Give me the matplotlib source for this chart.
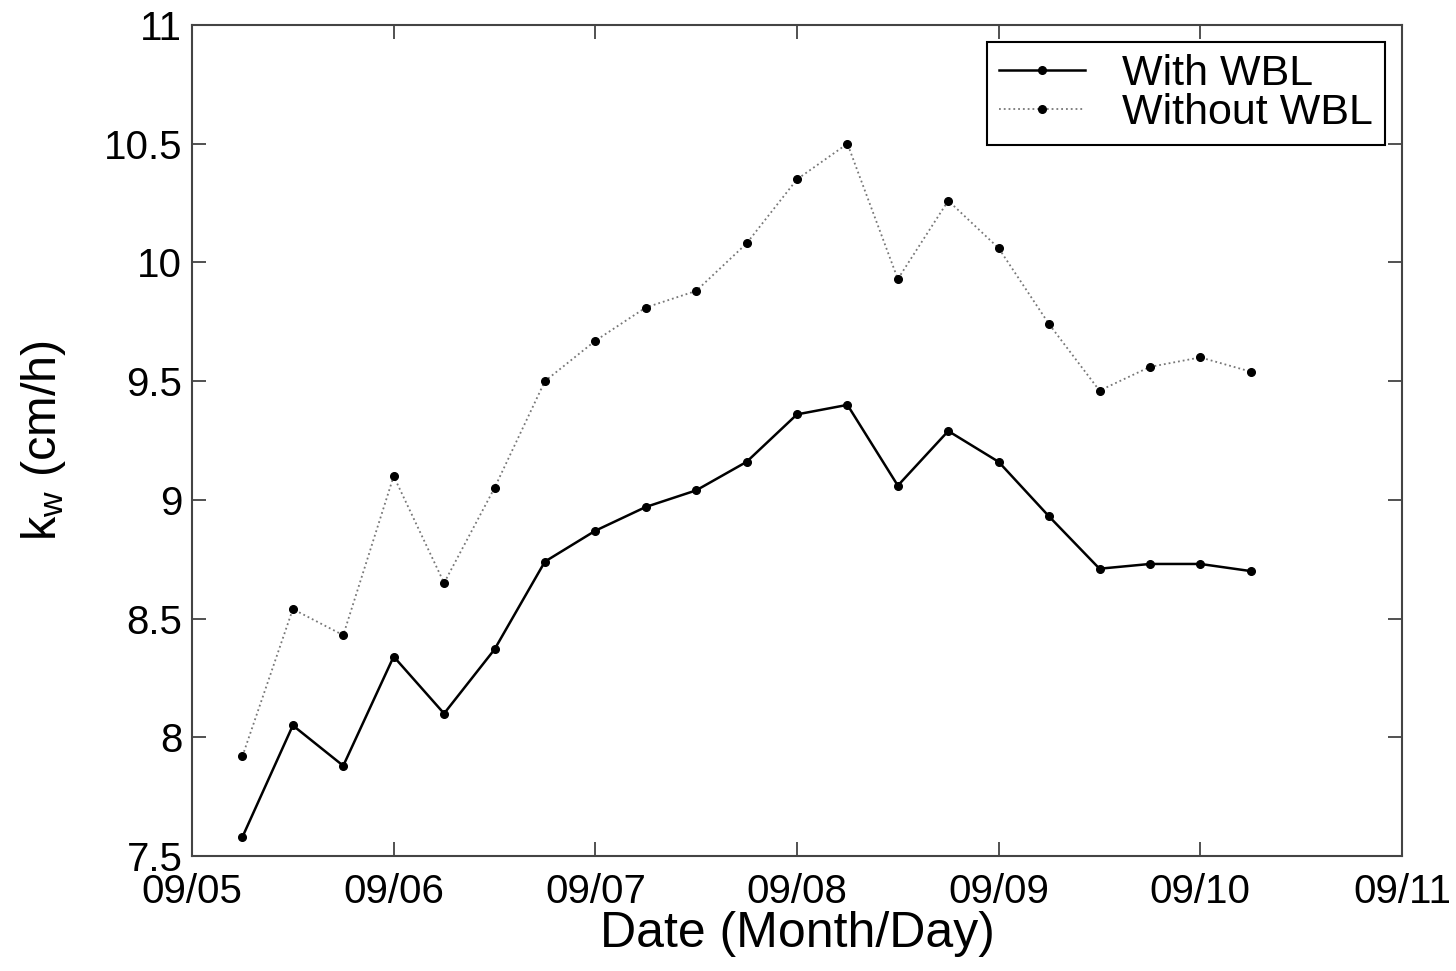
import matplotlib
matplotlib.use("Agg")
import matplotlib.pyplot as plt
import matplotlib.dates as mdates
import pandas as pd

plt.rcParams['font.family'] = ['Liberation Sans', 'DejaVu Sans']
plt.rcParams['mathtext.fontset'] = 'custom'
plt.rcParams['mathtext.rm'] = 'Liberation Sans'
plt.rcParams['mathtext.it'] = 'Liberation Sans'

times = ["2000-09-05 06:00", "2000-09-05 12:00", "2000-09-05 18:00",
         "2000-09-06 00:00", "2000-09-06 06:00", "2000-09-06 12:00", "2000-09-06 18:00",
         "2000-09-07 00:00", "2000-09-07 06:00", "2000-09-07 12:00", "2000-09-07 18:00",
         "2000-09-08 00:00", "2000-09-08 06:00", "2000-09-08 12:00", "2000-09-08 18:00",
         "2000-09-09 00:00", "2000-09-09 06:00", "2000-09-09 12:00", "2000-09-09 18:00",
         "2000-09-10 00:00", "2000-09-10 06:00"]
with_wbl = [7.58, 8.05, 7.88, 8.34, 8.10, 8.37, 8.74, 8.87, 8.97, 9.04, 9.16,
            9.36, 9.40, 9.06, 9.29, 9.16, 8.93, 8.71, 8.73, 8.73, 8.70]
without_wbl = [7.92, 8.54, 8.43, 9.10, 8.65, 9.05, 9.50, 9.67, 9.81, 9.88, 10.08,
               10.35, 10.50, 9.93, 10.26, 10.06, 9.74, 9.46, 9.56, 9.60, 9.54]
xtick_dates = ["2000-09-05", "2000-09-06", "2000-09-07", "2000-09-08",
               "2000-09-09", "2000-09-10", "2000-09-11"]
yticks = [7.5, 8, 8.5, 9, 9.5, 10, 10.5, 11]

t = pd.to_datetime(times)
xt = pd.to_datetime(xtick_dates)

fig = plt.figure(figsize=(14.56, 9.71), dpi=100)
ax = fig.add_axes([192/1456, 1-856/971, (1402-192)/1456, (856-25)/971])

ax.plot(t, with_wbl, color='black', lw=1.8, ls='-', marker='o', ms=5.5,
        mfc='black', mec='black', label='With WBL')
ax.plot(t, without_wbl, color='#777777', lw=1.3, ls=':', marker='o', ms=5.5,
        mfc='black', mec='black', label='Without WBL')

ax.set_xlim(xt[0], xt[-1])
ax.set_ylim(7.5, 11)
ax.set_xticks(xt)
ax.xaxis.set_major_formatter(mdates.DateFormatter('%m/%d'))
ax.set_yticks(yticks)
ax.set_yticklabels([f"{v:g}" for v in yticks])

ax.tick_params(direction='in', length=10, width=1.2, top=True, right=True,
               colors='#333333')
ax.tick_params(axis='x', labelsize=29, labelcolor='black', pad=12)
ax.tick_params(axis='y', labelsize=29, labelcolor='black', pad=7)
for s in ax.spines.values():
    s.set_linewidth(1.5)
    s.set_color('#444444')

ax.set_xlabel('Date (Month/Day)', fontsize=36, labelpad=0)
ax.set_ylabel(r'k$_{\mathrm{w}}$ (cm/h)', fontsize=35, labelpad=26)

leg = ax.legend(loc='upper right', fontsize=31, frameon=True, fancybox=False,
                edgecolor='black', framealpha=1, numpoints=1,
                handlelength=2.0, borderaxespad=0.4, borderpad=0.28,
                labelspacing=-0.02, handletextpad=0.85)
leg.get_frame().set_linewidth(1.5)

fig.savefig('out.png', dpi=100)
